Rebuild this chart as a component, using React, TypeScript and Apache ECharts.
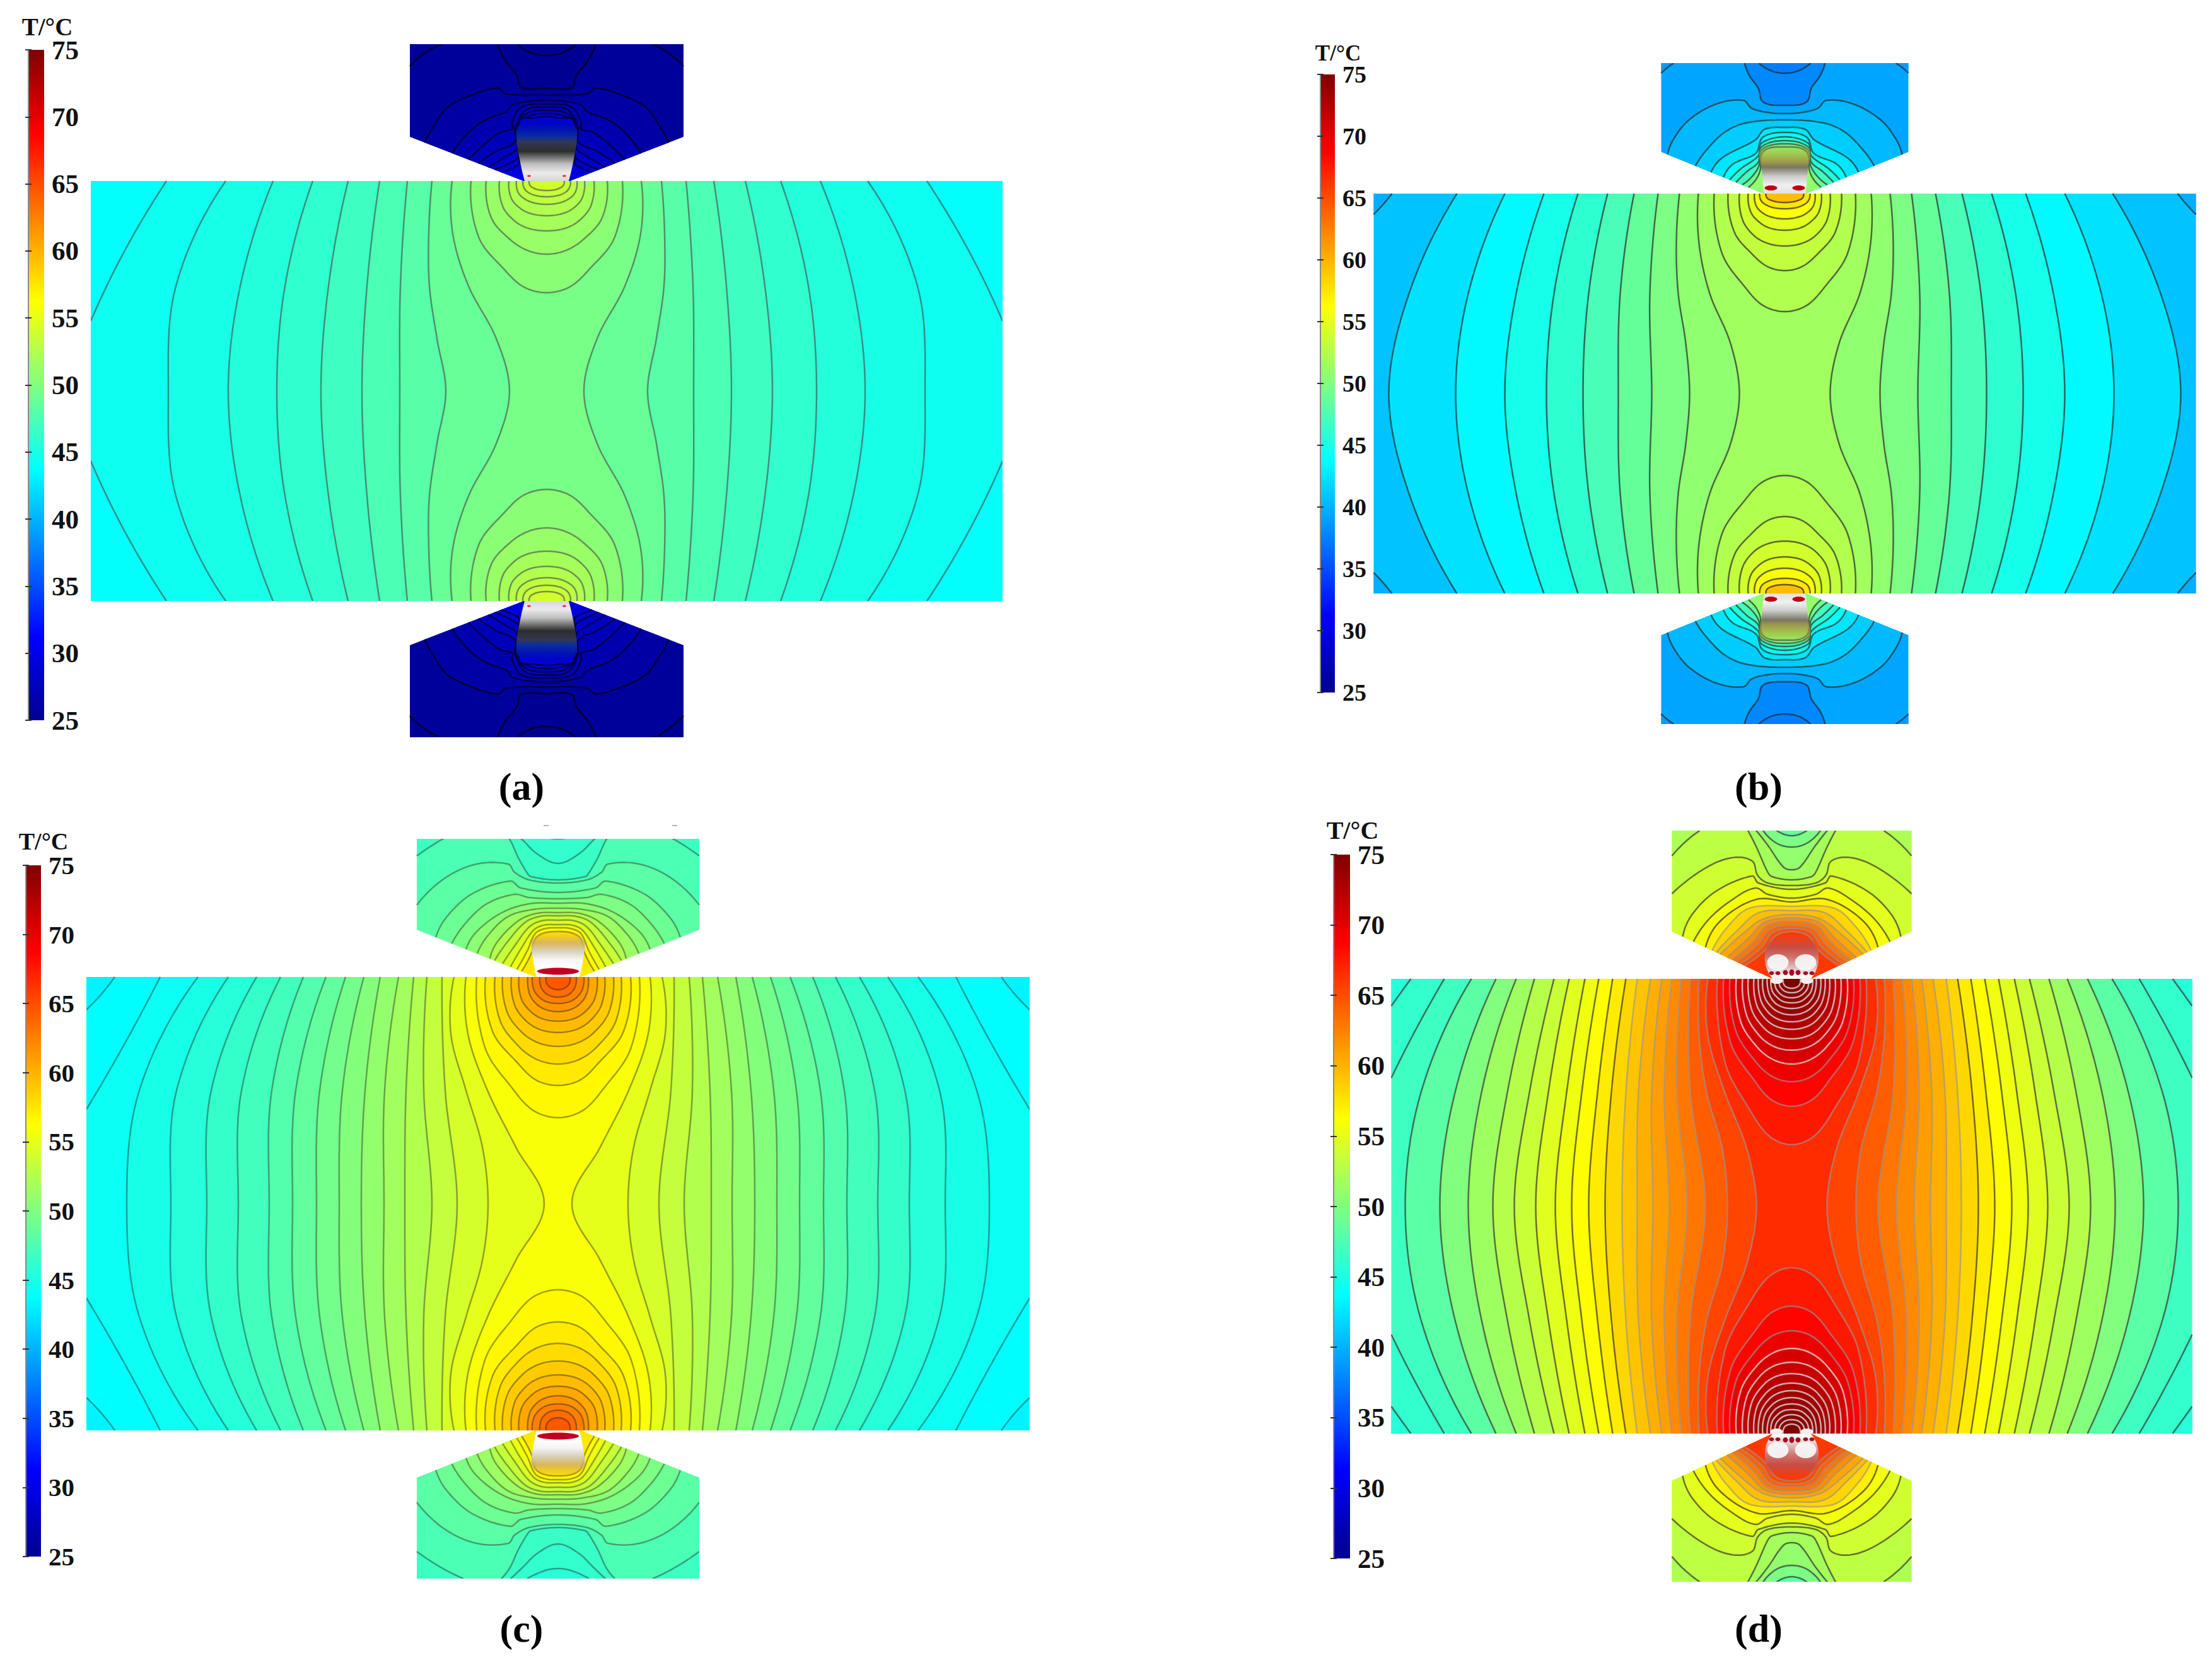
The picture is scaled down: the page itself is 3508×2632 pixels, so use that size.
import React, { useEffect, useRef } from "react";
import * as echarts from "echarts";

// ---------- values ----------
// Temperature scale
const scaleTicks = [25, 30, 35, 40, 45, 50, 55, 60, 65, 70, 75];
const colormapT = [25, 31.25, 37.5, 43.75, 50, 56.25, 62.5, 68.75, 75];
const colormapC = ["#00008f", "#0000ff", "#0080ff", "#00ffff", "#80ff80", "#ffff00", "#ff8000", "#ff0000", "#7f0000"];

// Plate: [T inside the isotherm, offset from the axis at evenly spaced heights from plate surface to mid-plane]
const aOpen = [
  [44.9, 509, 588, 600], [45.5, 434, 486, 505], [46.1, 371, 415, 428], [46.8, 315, 346, 358],
  [47.4, 265, 285, 293], [48.0, 221, 232, 233], [48.8, 182, 187, 186, 174, 160], [49.6, 150, 149, 124, 80, 59],
];
const bOpen = [
  [42.3, 520, 596, 628], [43.5, 444, 502, 522], [44.8, 382, 426, 444], [46.0, 328, 366, 378],
  [47.3, 281, 311, 320], [48.7, 239, 261, 264], [49.8, 201, 214, 211],
  [50.8, 167, 172, 169, 157, 151], [51.6, 137, 136, 119, 86, 72],
];
const cOpen = [
  [44.9, 571, 664, 684], [45.6, 523, 605, 614], [46.3, 478, 550, 557], [47.0, 440, 502, 507],
  [47.8, 404, 454, 458], [48.6, 368, 416, 421], [49.4, 337, 378, 383], [50.2, 308, 342, 347],
  [51.0, 282, 306, 312], [51.7, 253, 275, 276], [52.5, 229, 241, 243], [53.3, 208, 213, 200],
  [54.2, 184, 179, 160], [55.0, 165, 170, 146, 120, 111], [55.9, 146, 143, 112, 67, 22],
];
const dOpen = [
  [48.2, 508, 588, 613], [50.1, 469, 534, 558], [51.5, 437, 492, 513], [52.6, 408, 451, 474],
  [53.6, 377, 416, 440], [54.7, 353, 386, 406], [55.5, 328, 357, 375], [56.3, 306, 333, 349],
  [57.2, 284, 308, 322], [58.2, 263, 286, 296], [59.2, 245, 263, 269], [60.2, 224, 243, 245],
  [61.0, 206, 222, 220], [62.0, 190, 202, 194], [63.0, 175, 182, 166], [64.2, 161, 161, 137],
  [65.4, 147, 147, 135, 110, 102], [66.6, 133, 133, 106, 71, 56],
];

// Plate corners: [T, offset on surface, mid offset, mid depth, depth on the side]
const aCorners = [[43.9, 603, 669, 110, 222]];
const bCorners = [[39.8, 623, 637, 17, 33]];
const cCorners = [[43.7, 631, 688, 107, 210], [43.2, 703, 724, 27, 52]];
const dCorners = [[46.2, 551, 596, 80, 157], [45.6, 604, 620, 22, 43]];

// Plate loops below the electrode tip: [T, half width at surface, at 50%, 80% and 95% of depth, depth]
const aLoops = [
  [50.5, 120, 108, 66, 36, 177], [51.2, 96, 88, 58, 30, 116], [51.8, 75, 70, 51, 29, 79], [52.4, 60, 56, 41, 23, 55],
  [53.0, 48, 45, 33, 18, 37], [53.5, 38, 35, 26, 14, 25], [54.0, 28, 26, 19, 11, 15],
];
const bLoops = [
  [52.4, 112, 100, 62, 34, 187], [53.2, 90, 80, 50, 27, 122], [54.0, 72, 67, 49, 27, 83], [54.8, 58, 54, 39, 22, 58],
  [56.0, 48, 45, 33, 18, 40], [57.5, 40, 37, 27, 15, 24], [59.5, 30, 28, 20, 11, 14],
];
const cLoops = [
  [56.6, 129, 116, 71, 39, 223], [57.3, 115, 104, 63, 35, 172], [58.0, 100, 92, 62, 33, 138], [58.8, 88, 81, 57, 31, 110],
  [59.6, 74, 69, 50, 28, 88], [60.5, 62, 58, 42, 24, 70], [61.5, 48, 45, 33, 18, 55], [62.5, 41, 38, 28, 16, 42],
  [63.5, 29, 27, 20, 11, 32], [64.5, 19, 18, 13, 7, 20],
];
const dLoops = [
  [67.6, 118, 106, 65, 35, 263], [68.6, 108, 97, 59, 32, 202], [69.7, 98, 89, 58, 31, 163], [70.7, 88, 81, 55, 29, 135],
  [71.5, 78, 72, 51, 28, 113], [72.2, 69, 64, 46, 26, 95], [72.8, 60, 56, 41, 23, 80], [73.3, 53, 49, 36, 20, 68],
  [73.7, 46, 43, 31, 17, 57], [74.0, 39, 36, 27, 15, 47], [74.3, 33, 31, 22, 13, 38], [74.5, 27, 25, 18, 10, 30],
  [74.7, 20, 19, 14, 8, 22], [75.0, 14, 13, 10, 5, 15],
];

// Electrode isotherms: [T, [offset, distance from tip], ...]
const aEdge = [[25.2, [166, 217], [190, 205], [217, 182]]];
const bEdge = [[38.9, [176, 207], [186, 200], [196, 191]]];
const cEdge = [[46.8, [150, 235], [186, 217], [224, 192]]];
const dEdge = [[52.2, [146, 235], [169, 217], [190, 195]]];

const aCold = [
  [25.15, [79, 217], [65, 190], [47, 167], [40, 148], [0, 147]],
  [25.0, [47, 217], [25, 203], [0, 199]],
];
const bCold = [
  [37.9, [64, 207], [56, 187], [42, 167], [34, 145], [0, 140]],
  [37.4, [41, 207], [22, 195], [0, 191]],
];
const cCold = [
  [46.6, [90, 235], [76, 217], [63, 189], [49, 165], [43, 159], [0, 154]],
  [46.2, [75, 235], [56, 217], [33, 195], [0, 180]],
  [45.7, [49, 235], [20, 222], [0, 219]],
];
const dCold = [
  [51.8, [70, 236], [56, 209], [38, 169], [31, 162], [0, 157]],
  [51.0, [57, 236], [38, 212], [13, 177], [0, 173]],
  [49.8, [46, 236], [24, 215], [0, 209]],
  [48.5, [25, 236], [0, 227]],
];

const aDomes = [
  [26.2, [184, 61], [179, 87], [157, 117], [114, 138], [77, 147], [64, 138], [0, 136]],
  [26.8, [138, 44], [124, 77], [97, 97], [64, 110], [52, 122], [0, 128]],
  [27.3, [110, 34], [100, 57], [74, 77], [54, 83], [55, 93], [40, 117], [0, 122]],
  [27.8, [91, 28], [80, 47], [50, 62], [50, 83], [34, 112], [0, 117]],
  [28.3, [73, 22], [63, 40], [47, 52], [47, 90], [30, 108], [0, 112]],
  [28.8, [60, 18], [52, 32], [45, 40], [45, 92], [25, 104], [0, 107]],
  [29.3, [50, 14], [46, 25], [44, 30], [43, 95], [20, 100], [0, 102]],
];
const bDomes = [
  [40.3, [179, 62], [176, 87], [152, 117], [109, 142], [66, 148], [52, 135], [22, 128], [0, 127]],
  [41.3, [132, 44], [126, 67], [96, 97], [62, 112], [0, 117]],
  [42.5, [107, 34], [99, 57], [47, 85], [32, 102], [0, 105]],
  [44.0, [88, 26], [82, 47], [46, 64], [37, 87], [22, 95], [0, 97]],
  [45.5, [76, 22], [69, 40], [42, 60], [37, 80], [0, 90]],
  [47.0, [66, 18], [60, 35], [42, 50], [37, 74], [0, 84]],
  [49.0, [57, 14], [52, 27], [41, 44], [36, 70], [0, 79]],
  [51.0, [51, 10], [46, 22], [39, 37], [34, 67], [0, 74]],
];
const cDomes = [
  [48.2, [226, 114], [179, 157], [129, 179], [79, 179], [69, 166], [46, 154], [0, 149]],
  [49.0, [184, 63], [176, 96], [136, 132], [76, 152], [59, 141], [0, 134]],
  [49.8, [158, 53], [146, 86], [113, 116], [69, 131], [46, 126], [0, 124]],
  [50.6, [138, 44], [129, 72], [89, 102], [46, 116], [0, 117]],
  [51.4, [123, 37], [111, 66], [79, 96], [39, 107], [0, 109]],
  [52.4, [103, 29], [96, 56], [63, 89], [33, 101], [0, 102]],
  [53.4, [89, 26], [83, 52], [53, 86], [29, 96], [0, 97]],
  [54.4, [78, 21], [69, 49], [46, 79], [26, 89], [0, 90]],
  [55.4, [66, 16], [58, 46], [39, 74], [23, 82], [0, 83]],
  [56.4, [56, 12], [49, 41], [36, 69], [19, 77], [0, 78]],
  [57.4, [49, 9], [43, 36], [33, 64], [0, 72]],
];
const dDomes = [
  [53.9, [190, 135], [138, 175], [95, 192], [63, 187], [54, 164], [38, 152], [0, 148]],
  [54.8, [167, 67], [158, 102], [120, 139], [63, 163], [53, 152], [0, 142]],
  [55.7, [144, 59], [131, 95], [95, 125], [58, 144], [38, 134], [0, 128]],
  [57.0, [126, 50], [113, 92], [56, 126], [0, 122]],
  [58.2, [113, 45], [102, 82], [67, 112], [0, 115]],
  [59.4, [99, 42], [88, 75], [52, 105], [0, 108]],
  [60.6, [86, 39], [77, 72], [45, 95], [0, 102]],
  [61.8, [75, 34], [68, 65], [42, 90], [0, 96]],
  [63.0, [67, 30], [60, 60], [38, 85], [0, 91]],
  [64.0, [60, 27], [54, 55], [34, 79], [0, 85]],
  [65.0, [54, 24], [48, 50], [30, 74], [0, 80]],
  [66.0, [48, 21], [43, 45], [26, 68], [0, 75]],
];

// Contact patches at the tip: outline, then spots [offset, distance from tip, rx, ry, colour]
const aBlobOutline = [[35, 0], [42, 30], [48, 68], [44, 88], [0, 100]];
const bBlobOutline = [[33, 0], [37, 40], [40, 68], [28, 80], [0, 84]];
const cBlobOutline = [[34, 0], [40, 30], [42, 55], [28, 70], [0, 75]];
const dBlobOutline = [[30, 0], [42, 25], [38, 55], [20, 68], [0, 72]];
const aSpots = [[28, 8, 3, 1.5, "#e03030"]];
const bSpots = [[22, 9, 10, 4, "#c00010"]];
const cSpots = [[0, 9, 37, 9, "#ffffff"], [0, 9, 33, 5.5, "#c00020"]];
const dSpots = [
  [22, 26, 17, 13, "rgba(245,245,245,0.95)"], [24, -3, 10, 5, "#f5eeee"],
  [32, 9, 4, 3, "#a01020"], [22, 9, 4, 3, "#a01020"], [10, 10, 4, 4, "#a01020"], [0, 10, 4, 5, "#a01020"],
];

const captions = ["(a)", "(b)", "(c)", "(d)"];
const scaleTitle = "T/°C";

// ---------- layout and styling ----------
const panels: any[] = [
  {
    cx: 867, top: 287, H: 333, W: 723, halfE: 217, tip: 36, sh: 70, capT: 217, capB: 216,
    base: 44.4, eBase: 25.6, open: aOpen, corners: aCorners, loops: aLoops, edge: aEdge, cold: aCold, domes: aDomes,
    blob: aBlobOutline, spots: aSpots, grey: 70, alpha: 0.6, hot: false,
    stops: [[100, "rgba(0,0,170,0)"], [85, "rgba(0,20,170,0.75)"], [70, "rgb(10,45,160)"], [62, "rgb(50,55,85)"], [47, "rgb(45,45,45)"], [27, "rgb(190,190,190)"], [13, "rgb(235,235,235)"], [0, "rgb(215,215,215)"]],
    bar: { left: 45, top: 79, w: 25, h: 1063 }, fs: 43, title: [75, 42, 39], cap: [827, 1247],
  },
  {
    cx: 2830.5, top: 307, H: 317, W: 652, halfE: 196, tip: 33, sh: 66, capT: 207, capB: 207,
    base: 40.8, eBase: 39.3, open: bOpen, corners: bCorners, loops: bLoops, edge: bEdge, cold: bCold, domes: bDomes,
    blob: bBlobOutline, spots: bSpots, grey: 40, alpha: 0.7, hot: false,
    stops: [[84, "rgba(120,200,120,0)"], [66, "rgba(170,170,60,0.55)"], [50, "rgba(160,135,70,0.85)"], [42, "rgb(120,118,100)"], [27, "rgb(205,205,205)"], [14, "rgb(240,240,240)"], [0, "rgb(225,225,225)"]],
    bar: { left: 2094, top: 118, w: 23, h: 980 }, fs: 38, title: [2122, 84, 35], cap: [2789, 1247],
  },
  {
    cx: 885, top: 1549, H: 359.5, W: 748, halfE: 224, tip: 35, sh: 75, capT: 219, capB: 235,
    base: 44.3, eBase: 47.4, open: cOpen, corners: cCorners, loops: cLoops, edge: cEdge, cold: cCold, domes: cDomes,
    blob: cBlobOutline, spots: cSpots, grey: 30, alpha: 0.42, hot: false,
    stops: [[75, "rgba(230,170,50,0)"], [55, "rgba(210,170,110,0.8)"], [40, "rgba(215,210,205,0.95)"], [28, "rgb(245,245,245)"], [15, "rgb(255,255,255)"], [0, "rgb(255,255,255)"]],
    bar: { left: 41, top: 1372, w: 24, h: 1096 }, fs: 41, title: [69, 1334, 38], cap: [827, 2582],
  },
  {
    cx: 2841.5, top: 1552, H: 360.5, W: 635, halfE: 190, tip: 30, sh: 75, capT: 235, capB: 235,
    base: 46.8, eBase: 53, open: dOpen, corners: dCorners, loops: dLoops, edge: dEdge, cold: dCold, domes: dDomes,
    blob: dBlobOutline, spots: dSpots, grey: 50, alpha: 0.7, hot: true,
    stops: [[72, "rgba(190,80,80,0)"], [50, "rgba(190,80,80,0.85)"], [35, "rgba(200,120,120,0.9)"], [18, "rgb(225,190,190)"], [6, "rgb(245,240,240)"], [0, "rgb(255,255,255)"]],
    bar: { left: 2115, top: 1355, w: 26, h: 1116 }, fs: 43, title: [2145, 1316, 40], cap: [2789, 2582],
  },
];

const SERIF = '"Liberation Serif", "Times New Roman", serif';

function hexRgb(h: string) {
  return [1, 3, 5].map((i) => parseInt(h.slice(i, i + 2), 16));
}
function jet(T: number) {
  const t = Math.max(25, Math.min(75, T));
  let i = 0;
  while (i < colormapT.length - 2 && t > colormapT[i + 1]) i++;
  const f = (t - colormapT[i]) / (colormapT[i + 1] - colormapT[i]);
  const a = hexRgb(colormapC[i]);
  const b = hexRgb(colormapC[i + 1]);
  return a.map((v, k) => v + (b[k] - v) * f);
}
const rgb = (c: number[]) => `rgb(${c.map((v) => Math.round(v)).join(",")})`;
const fillOf = (T: number) => rgb(jet(T));
function strokeOf(T: number, p: any) {
  const c = jet(T);
  if (T < 32) return rgb(c.map((v) => v * 0.35));
  let grey = p.grey;
  let alpha = p.alpha;
  if (p.hot && T >= 70) { grey = 215; alpha = 0.8; }
  else if (p.hot && T >= 58) { grey = 150; alpha = 0.65; }
  return rgb(c.map((v) => v * (1 - alpha) + grey * alpha));
}

const unit = (x: number, y: number) => {
  const l = Math.hypot(x, y) || 1;
  return [x / l, y / l];
};

// Smooth drawing path through the read points
function spline(pts: number[][], seg = 12) {
  const n = pts.length;
  const dirs = pts.map((_, i) => {
    const a = pts[Math.max(i - 1, 0)];
    const b = pts[Math.min(i + 1, n - 1)];
    return unit(b[0] - a[0], b[1] - a[1]);
  });
  if (n > 2) {
    const u0 = unit(pts[1][0] - pts[0][0], pts[1][1] - pts[0][1]);
    dirs[0] = unit(2 * u0[0] - dirs[1][0], 2 * u0[1] - dirs[1][1]);
    const u1 = unit(pts[n - 1][0] - pts[n - 2][0], pts[n - 1][1] - pts[n - 2][1]);
    dirs[n - 1] = unit(2 * u1[0] - dirs[n - 2][0], 2 * u1[1] - dirs[n - 2][1]);
  }
  const out = [pts[0]];
  for (let i = 0; i < n - 1; i++) {
    const p0 = pts[i];
    const p1 = pts[i + 1];
    const L = Math.hypot(p1[0] - p0[0], p1[1] - p0[1]);
    for (let k = 1; k <= seg; k++) {
      const t = k / seg;
      const h00 = 2 * t ** 3 - 3 * t ** 2 + 1;
      const h10 = t ** 3 - 2 * t ** 2 + t;
      const h01 = -2 * t ** 3 + 3 * t ** 2;
      const h11 = t ** 3 - t ** 2;
      out.push([
        h00 * p0[0] + h10 * L * dirs[i][0] + h01 * p1[0] + h11 * L * dirs[i + 1][0],
        h00 * p0[1] + h10 * L * dirs[i][1] + h01 * p1[1] + h11 * L * dirs[i + 1][1],
      ]);
    }
  }
  return out;
}

// Right half (ending on the axis) → full symmetric list
function symmetric(right: number[][]) {
  const left = right.slice(0, -1).reverse().map((q) => [-q[0], q[1]]);
  return right.concat(left);
}

function buildShapes(p: any) {
  const shapes: any[] = [];
  const { W, H, halfE, tip, sh } = p;
  shapes.push({ fill: fillOf(p.base), poly: [[-W, H], [W, H], [W, -H], [-W, -H]], lines: [] });

  // plate corners
  for (const row of p.corners) {
    const [T, top, mx, md, side] = row;
    for (const sx of [1, -1]) for (const sy of [1, -1]) {
      const path = spline([[sx * top, sy * H], [sx * mx, sy * (H - md)], [sx * W, sy * (H - side)]]);
      shapes.push({ fill: fillOf(T), poly: path.concat([[sx * W, sy * H]]), lines: [path], stroke: strokeOf(T + 0.5, p) });
    }
  }
  // isotherms running through the plate
  for (const row of p.open) {
    const T = row[0];
    const vals = row.slice(1);
    const m = vals.length - 1;
    const half = vals.map((v: number, i: number) => [v, H * (1 - i / m)]);
    const full = half.concat(half.slice(0, -1).reverse().map((q: number[]) => [q[0], -q[1]]));
    const right = spline(full);
    const left = right.map((q) => [-q[0], q[1]]);
    shapes.push({ fill: fillOf(T), poly: right.concat(left.slice().reverse()), lines: [right, left], stroke: strokeOf(T - 0.4, p) });
  }
  // closed loops under both tips
  for (const sy of [1, -1]) {
    for (const [T, a, b, c, e, depth] of p.loops) {
      const half = [[a, 0], [b, 0.5 * depth], [c, 0.8 * depth], [e, 0.95 * depth], [0, depth]].map((q) => [q[0], sy * (H - q[1])]);
      const path = spline(symmetric(half));
      shapes.push({ fill: fillOf(T), poly: path, lines: [path], stroke: strokeOf(T - 0.4, p) });
    }
  }
  // electrodes
  for (const sy of [1, -1]) {
    const cap = sy > 0 ? p.capT : p.capB;
    const Y = (d: number) => sy * (H + d);
    shapes.push({
      fill: fillOf(p.eBase),
      poly: [[tip, Y(0)], [halfE, Y(sh)], [halfE, Y(cap)], [-halfE, Y(cap)], [-halfE, Y(sh)], [-tip, Y(0)]],
      lines: [],
    });
    for (const row of p.edge) {
      const T = row[0];
      const pts = row.slice(1);
      for (const sx of [1, -1]) {
        const path = spline(pts.map((q: number[]) => [sx * q[0], Y(q[1])]));
        shapes.push({ fill: fillOf(T), poly: path.concat([[sx * halfE, Y(cap + 20)]]), lines: [path], stroke: strokeOf(T, p) });
      }
    }
    for (const row of p.cold) {
      const T = row[0];
      const pts = row.slice(1).map((q: number[]) => [q[0], Y(q[1])]);
      const path = spline(symmetric(pts));
      shapes.push({ fill: fillOf(T), poly: path, lines: [path], stroke: strokeOf(T, p) });
    }
    for (const row of p.domes) {
      const T = row[0];
      const pts = row.slice(1).map((q: number[]) => [q[0], q[1]]);
      const d0 = pts[0][1];
      pts[0][0] = d0 <= sh ? tip + ((halfE - tip) * d0) / sh : halfE;
      const path = spline(symmetric(pts.map((q: number[]) => [q[0], Y(q[1])])));
      const outline = d0 > sh
        ? [[-halfE, Y(sh)], [-tip, Y(0)], [tip, Y(0)], [halfE, Y(sh)]]
        : [[-tip, Y(0)], [tip, Y(0)]];
      shapes.push({ fill: fillOf(T), poly: path.concat(outline), lines: [path], stroke: strokeOf(T, p) });
    }
    // contact patch
    const h = p.stops[0][0];
    const ordered = p.stops
      .map((s: any[]) => ({ offset: sy > 0 ? (h - s[0]) / h : s[0] / h, color: s[1] }))
      .sort((a: any, b: any) => a.offset - b.offset);
    const blob = spline(symmetric(p.blob.map((q: number[]) => [q[0], Y(q[1])])));
    shapes.push({ gradient: ordered, poly: blob, lines: [] });
    for (const [dx, d, rx, ry, color] of p.spots) {
      for (const sx of dx === 0 ? [1] : [1, -1]) {
        shapes.push({ ellipse: [sx * dx, Y(d), rx, ry], fill: color, lines: [], poly: [] });
      }
    }
  }
  return shapes;
}

function fieldSeries(p: any, index: number) {
  const shapes = buildShapes(p);
  return {
    type: "custom",
    xAxisIndex: index,
    yAxisIndex: index,
    clip: true,
    silent: true,
    data: shapes.map((_, i) => [i]),
    renderItem: (params: any, api: any) => {
      const s = shapes[params.dataIndex];
      const map = (pts: number[][]) => pts.map((q) => api.coord(q));
      const z2 = params.dataIndex * 2;
      if (s.ellipse) {
        const c = api.coord([s.ellipse[0], s.ellipse[1]]);
        return { type: "ellipse", z2, shape: { cx: c[0], cy: c[1], rx: s.ellipse[2], ry: s.ellipse[3] }, style: { fill: s.fill } };
      }
      const children: any[] = [{
        type: "polygon",
        z2,
        shape: { points: map(s.poly) },
        style: { fill: s.gradient ? new echarts.graphic.LinearGradient(0, 0, 0, 1, s.gradient) : s.fill },
      }];
      for (const l of s.lines) {
        children.push({
          type: "polyline",
          z2: z2 + 1,
          shape: { points: map(l) },
          style: { fill: "none", stroke: s.stroke, lineWidth: 2.5 },
        });
      }
      return { type: "group", children };
    },
  };
}

function barSeries(k: number) {
  const stops = colormapT.map((T, i) => ({ offset: (75 - T) / 50, color: colormapC[i] })).reverse();
  return {
    type: "custom",
    xAxisIndex: k,
    yAxisIndex: k,
    silent: true,
    data: [[0, 25, 1, 75]],
    renderItem: (_: any, api: any) => {
      const a = api.coord([api.value(0), api.value(3)]);
      const b = api.coord([api.value(2), api.value(1)]);
      return {
        type: "rect",
        shape: { x: a[0], y: a[1], width: b[0] - a[0], height: b[1] - a[1] },
        style: { fill: new echarts.graphic.LinearGradient(0, 0, 0, 1, stops) },
      };
    },
  };
}

function buildOption() {
  const grid: any[] = [];
  const xAxis: any[] = [];
  const yAxis: any[] = [];
  const series: any[] = [];
  const graphic: any[] = [];

  panels.forEach((p, i) => {
    grid.push({ left: p.cx - p.W, top: p.top - p.capT, width: 2 * p.W, height: 2 * p.H + p.capT + p.capB });
    xAxis.push({ type: "value", show: false, min: -p.W, max: p.W, gridIndex: i });
    yAxis.push({ type: "value", show: false, min: -(p.H + p.capB), max: p.H + p.capT, gridIndex: i });
    series.push(fieldSeries(p, i));
  });

  panels.forEach((p, i) => {
    const g = panels.length + i;
    grid.push({ left: p.bar.left, top: p.bar.top, width: p.bar.w, height: p.bar.h });
    xAxis.push({ type: "value", show: false, min: 0, max: 1, gridIndex: g });
    yAxis.push({
      type: "value",
      gridIndex: g,
      min: scaleTicks[0],
      max: scaleTicks[scaleTicks.length - 1],
      interval: 5,
      z: 5,
      splitLine: { show: false },
      axisLine: { show: true, lineStyle: { color: "#8a8a8a", width: 2 } },
      axisTick: { show: true, inside: true, length: 5, lineStyle: { color: "#333", width: 2 } },
      position: "right",
      axisLabel: {
        show: true,
        margin: 12,
        padding: [6, 0, 0, 0],
        fontFamily: SERIF,
        fontWeight: "bold",
        fontSize: p.fs,
        color: "#111",
      },
    });
  });
  panels.forEach((p, i) => {
    const g = panels.length + i;
    series.push(barSeries(g));
    yAxis.push({
      type: "value",
      gridIndex: g,
      min: scaleTicks[0],
      max: scaleTicks[scaleTicks.length - 1],
      interval: 5,
      position: "left",
      z: 5,
      splitLine: { show: false },
      axisLabel: { show: false },
      axisLine: { show: true, lineStyle: { color: "#8a8a8a", width: 2 } },
      axisTick: { show: true, inside: true, length: 5, lineStyle: { color: "#333", width: 2 } },
    });
    graphic.push({
      type: "text",
      x: p.title[0],
      y: p.title[1],
      style: { text: scaleTitle, align: "center", verticalAlign: "middle", font: `bold ${p.title[2]}px ${SERIF}`, fill: "#111" },
    });
    graphic.push({
      type: "text",
      x: p.cap[0],
      y: p.cap[1],
      style: { text: captions[i], align: "center", verticalAlign: "middle", font: `bold 62px ${SERIF}`, fill: "#000" },
    });
  });
  // the two faint specks above the top electrode of panel (c)
  graphic.push({ type: "rect", shape: { x: 862, y: 1308, width: 8, height: 2 }, style: { fill: "#b5b5b5" } });
  graphic.push({ type: "rect", shape: { x: 1066, y: 1308, width: 8, height: 2 }, style: { fill: "#b5b5b5" } });

  return { animation: false, backgroundColor: "#fff", grid, xAxis, yAxis, series, graphic };
}

export default function App() {
  const ref = useRef<HTMLDivElement>(null);
  useEffect(() => {
    const chart = echarts.init(ref.current as HTMLDivElement, undefined, { renderer: "svg" });
    chart.setOption(buildOption());
    return () => chart.dispose();
  }, []);
  return <div ref={ref} style={{ position: "absolute", left: 0, top: 0, width: 3508, height: 2632 }} />;
}
